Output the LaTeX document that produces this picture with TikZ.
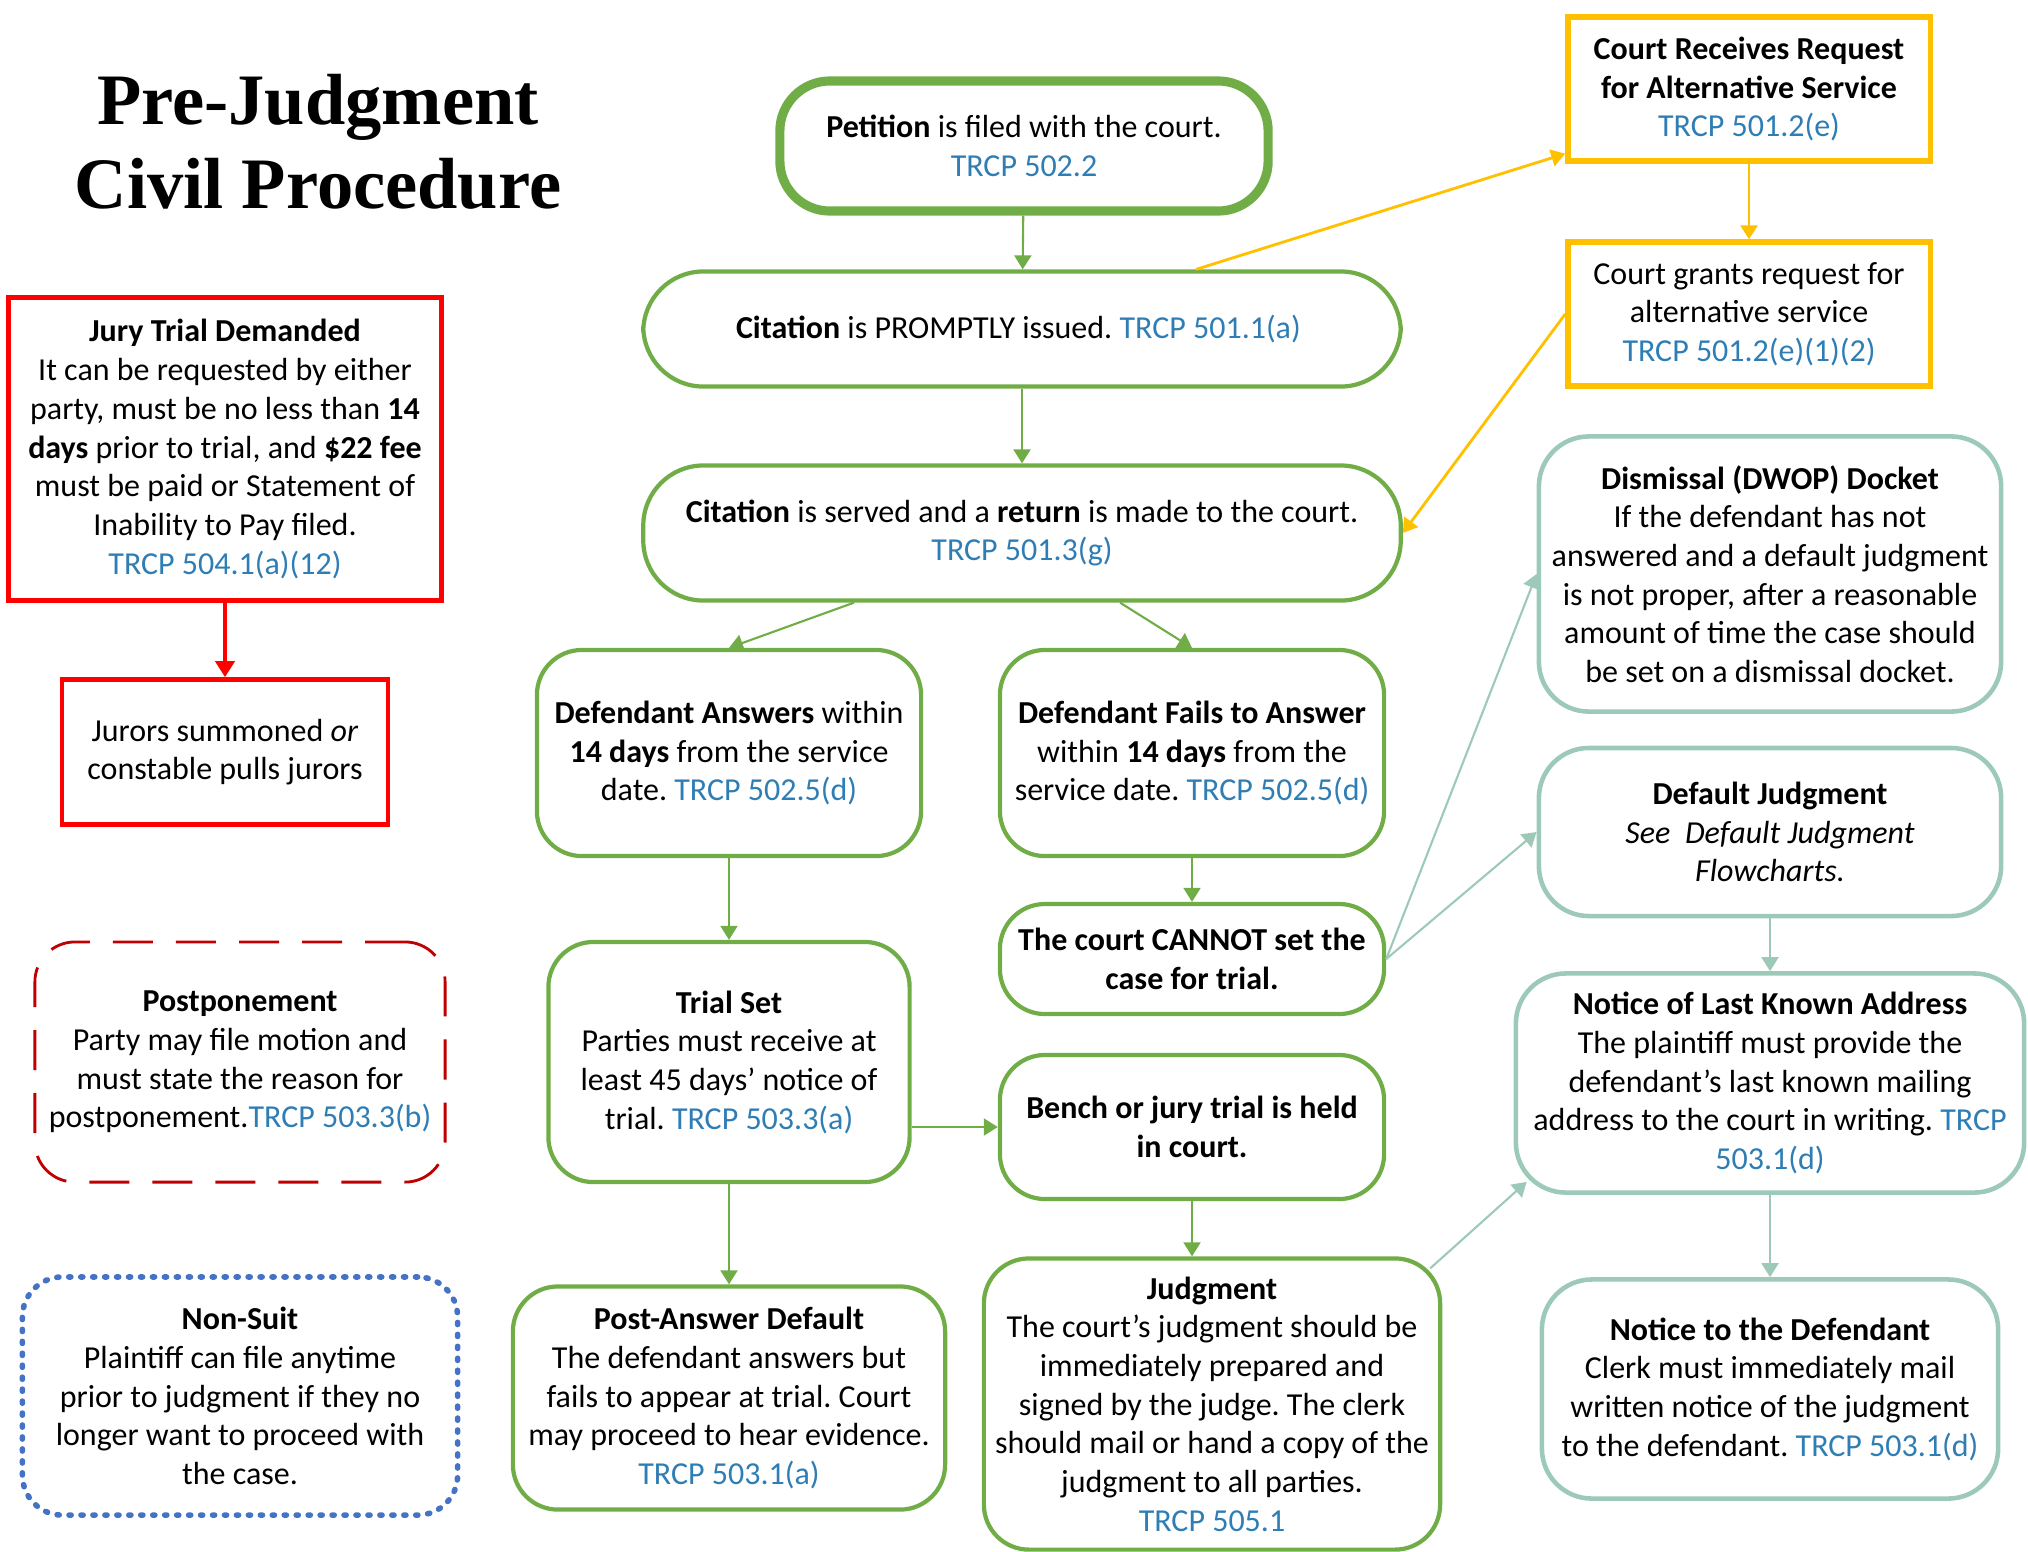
\documentclass[tikz,border=0pt]{standalone}
\usepackage{fontspec}
\setmainfont{Carlito}
\newfontfamily\titlefont{Liberation Serif}
\usetikzlibrary{arrows.meta,positioning,calc}

\definecolor{flowgreen}{HTML}{70AD47}
\definecolor{flowamber}{HTML}{FFC000}
\definecolor{flowred}{HTML}{FF0000}
\definecolor{darkred}{HTML}{C00000}
\definecolor{flowblue}{HTML}{4472C4}
\definecolor{flowteal}{HTML}{9DCAB8}
\definecolor{linkblue}{HTML}{2E7DB4}

\newcommand{\rulecite}[1]{\textcolor{linkblue}{#1}}
\frenchspacing

\begin{document}
\begin{tikzpicture}[x=0.01cm, y=-0.01cm,
    box/.style={align=center, font=\fontsize{9.1}{11}\selectfont, inner sep=0pt},
    greenbox/.style={box, draw=flowgreen, line width=1.2pt, rounded corners=0.45cm},
    pillbox/.style={greenbox, rounded corners=0.6cm},
    tealbox/.style={box, draw=flowteal, line width=1.3pt, rounded corners=0.5cm},
    amberbox/.style={box, draw=flowamber, line width=1.5pt},
    redbox/.style={box, draw=flowred, line width=1.3pt},
    arrow/.style={-{Triangle[width=0.17cm,length=0.14cm]}, line width=0.6pt}
]
    \useasboundingbox (0,0) rectangle (2028,1551);

    % Title
    \node[font=\titlefont\bfseries\fontsize{20.6}{24}\selectfont, align=center] (title) at (318,142)
        {Pre-Judgment\\Civil Procedure};

    % Left column
    \node[redbox, minimum width=4.33cm, minimum height=3.03cm] (jury) at (225,449) {
        \textbf{Jury Trial Demanded}\\
        It can be requested by either\\
        party, must be no less than \textbf{14}\\
        \textbf{days} prior to trial, and \textbf{\$22 fee}\\
        must be paid or Statement of\\
        Inability to Pay filed.\\
        \rulecite{TRCP 504.1(a)(12)}
    };
    \node[redbox, minimum width=3.26cm, minimum height=1.45cm] (jurors) at (225,752) {
        Jurors summoned \textit{or}\\
        constable pulls jurors
    };
    \node[box, draw=darkred, line width=0.8pt, dash pattern=on 0.4cm off 0.23cm,
          rounded corners=0.4cm, minimum width=4.1cm, minimum height=2.4cm] (postpone) at (240,1062) {
        \textbf{Postponement}\\
        Party may file motion and\\
        must state the reason for\\
        postponement.\rulecite{TRCP 503.3(b)}
    };
    \node[box, draw=flowblue, line width=1.6pt, line cap=round, dash pattern=on 0.6pt off 2.8pt,
          rounded corners=0.4cm, minimum width=4.35cm, minimum height=2.38cm] (nonsuit) at (240,1396) {
        \textbf{Non-Suit}\\
        Plaintiff can file anytime\\
        prior to judgment if they no\\
        longer want to proceed with\\
        the case.
    };

    % Main flow
    \node[greenbox, line width=2.6pt, rounded corners=0.5cm, minimum width=4.88cm, minimum height=1.3cm] (petition) at (1024,146) {
        \textbf{Petition} is filed with the court.\\
        \rulecite{TRCP 502.2}
    };
    \node[pillbox, minimum width=7.57cm, minimum height=1.15cm] (issued) at (1022,329) {
        \textbf{Citation} is PROMPTLY issued. \rulecite{TRCP 501.1(a)}
    };
    \node[pillbox, minimum width=7.57cm, minimum height=1.35cm] (served) at (1022,533) {
        \textbf{Citation} is served and a \textbf{return} is made to the court.\\
        \rulecite{TRCP 501.3(g)}
    };
    \node[greenbox, minimum width=3.84cm, minimum height=2.06cm] (answers) at (729,753) {
        \textbf{Defendant Answers} within\\
        \textbf{14 days} from the service\\
        date. \rulecite{TRCP 502.5(d)}
    };
    \node[greenbox, minimum width=3.84cm, minimum height=2.06cm] (fails) at (1192,753) {
        \textbf{Defendant Fails to Answer}\\
        within \textbf{14 days} from the\\
        service date. \rulecite{TRCP 502.5(d)}
    };
    \node[greenbox, minimum width=3.84cm, minimum height=1.1cm] (cannot) at (1192,959) {
        \textbf{The court CANNOT set the}\\
        \textbf{case for trial.}
    };
    \node[greenbox, minimum width=3.61cm, minimum height=2.4cm] (trialset) at (729,1062) {
        \textbf{Trial Set}\\
        Parties must receive at\\
        least 45 days’ notice of\\
        trial. \rulecite{TRCP 503.3(a)}
    };
    \node[greenbox, minimum width=3.84cm, minimum height=1.44cm] (bench) at (1192,1127) {
        \textbf{Bench or jury trial is held}\\
        \textbf{in court.}
    };
    \node[greenbox, minimum width=4.32cm, minimum height=2.23cm] (postanswer) at (729,1398) {
        \textbf{Post-Answer Default}\\
        The defendant answers but\\
        fails to appear at trial. Court\\
        may proceed to hear evidence.\\
        \rulecite{TRCP 503.1(a)}
    };
    \node[greenbox, minimum width=4.56cm, minimum height=2.91cm] (judgment) at (1212,1404) {
        \textbf{Judgment}\\
        The court’s judgment should be\\
        immediately prepared and\\
        signed by the judge. The clerk\\
        should mail or hand a copy of the\\
        judgment to all parties.\\
        \rulecite{TRCP 505.1}
    };

    % Alternative service
    \node[amberbox, minimum width=3.62cm, minimum height=1.44cm] (receives) at (1749,89) {
        \textbf{Court Receives Request}\\
        \textbf{for Alternative Service}\\
        \rulecite{TRCP 501.2(e)}
    };
    \node[amberbox, minimum width=3.62cm, minimum height=1.44cm] (grants) at (1749,314) {
        Court grants request for\\
        alternative service\\
        \rulecite{TRCP 501.2(e)(1)(2)}
    };

    % Default branch
    \node[tealbox, minimum width=4.62cm, minimum height=2.75cm] (dismissal) at (1770,574) {
        \textbf{Dismissal (DWOP) Docket}\\
        If the defendant has not\\
        answered and a default judgment\\
        is not proper, after a reasonable\\
        amount of time the case should\\
        be set on a dismissal docket.
    };
    \node[tealbox, minimum width=4.62cm, minimum height=1.68cm] (defaultj) at (1770,832) {
        \textbf{Default Judgment}\\
        \textit{See\ \ Default Judgment}\\
        \textit{Flowcharts.}
    };
    \node[tealbox, minimum width=5.08cm, minimum height=2.19cm] (lastknown) at (1770,1083) {
        \textbf{Notice of Last Known Address}\\
        The plaintiff must provide the\\
        defendant’s last known mailing\\
        address to the court in writing. \rulecite{TRCP}\\
        \rulecite{503.1(d)}
    };
    \node[tealbox, minimum width=4.56cm, minimum height=2.19cm] (noticedef) at (1770,1389) {
        \textbf{Notice to the Defendant}\\
        Clerk must immediately mail\\
        written notice of the judgment\\
        to the defendant. \rulecite{TRCP 503.1(d)}
    };

    % Connectors
    \draw[arrow, flowred, line width=1.1pt, -{Triangle[width=0.19cm,length=0.16cm]}] (jury) -- (jurors);

    \draw[arrow, flowgreen] (petition) -- (issued);
    \draw[arrow, flowgreen] (issued) -- (served);
    \draw[arrow, flowgreen] ([xshift=-1.68cm]served.south) -- (answers.north);
    \draw[arrow, flowgreen] ([xshift=0.98cm]served.south) -- (fails.north);
    \draw[arrow, flowgreen] (answers) -- (trialset);
    \draw[arrow, flowgreen] (fails) -- (cannot);
    \draw[arrow, flowgreen] (trialset.east |- bench.west) -- (bench.west);
    \draw[arrow, flowgreen] (trialset) -- (postanswer);
    \draw[arrow, flowgreen] (bench.south) -- (bench.south |- judgment.north);

    \draw[arrow, flowamber, line width=0.8pt] ([xshift=1.74cm]issued.north) -- ([yshift=0.1cm]receives.south west);
    \draw[arrow, flowamber, line width=0.8pt] (receives) -- (grants);
    \draw[arrow, flowamber, line width=0.8pt] (grants.west) -- (served.east);

    \draw[arrow, flowteal] (cannot.east) -- (dismissal.west);
    \draw[arrow, flowteal] (cannot.east) -- (defaultj.west);
    \draw[arrow, flowteal] (defaultj) -- (lastknown);
    \draw[arrow, flowteal] (lastknown) -- (noticedef);
    \draw[arrow, flowteal] ([xshift=-0.12cm,yshift=-0.12cm]judgment.north east) -- ([xshift=0.13cm,yshift=0.13cm]lastknown.south west);
\end{tikzpicture}
\end{document}
